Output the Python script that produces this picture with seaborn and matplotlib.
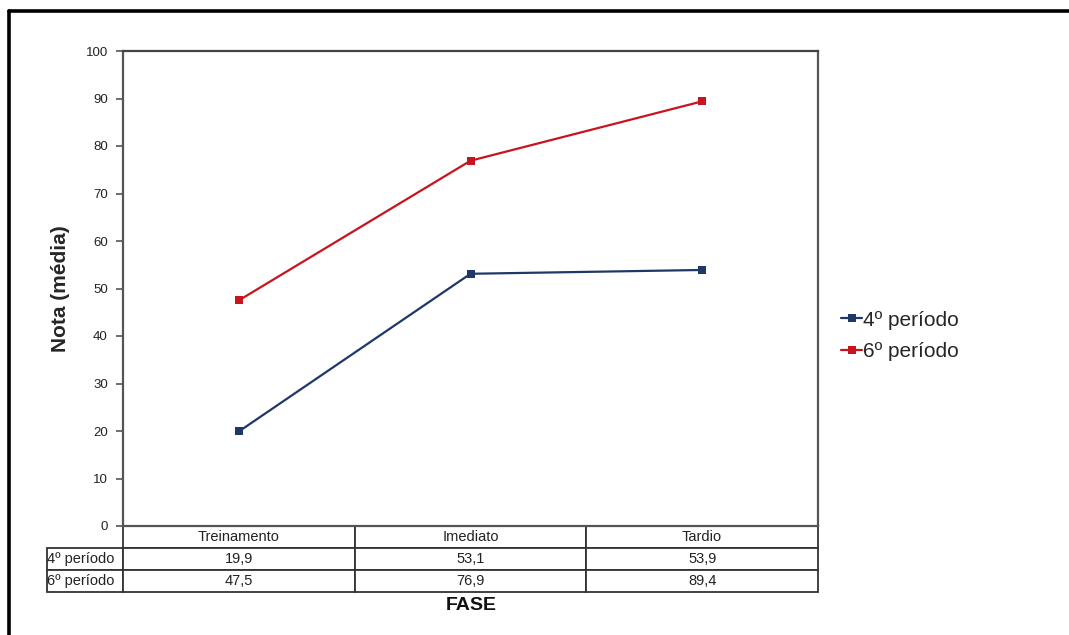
import matplotlib
matplotlib.use("Agg")
import matplotlib.pyplot as plt
from matplotlib.lines import Line2D
from matplotlib.table import Table
import seaborn as sns
import pandas as pd

# Data
fases = ["Treinamento", "Imediato", "Tardio"]
series = ["4º período", "6º período"]
notas_4 = [19.9, 53.1, 53.9]
notas_6 = [47.5, 76.9, 89.4]
cores = {"4º período": "#1F3868", "6º período": "#C8141E"}
y_ticks = list(range(0, 101, 10))

df = pd.DataFrame({
    "Fase": fases * 2,
    "Nota": notas_4 + notas_6,
    "Período": [series[0]] * 3 + [series[1]] * 3,
})

sns.set_theme(style="white")
plt.rcParams["font.family"] = ["Liberation Sans", "DejaVu Sans"]

W, H = 1069, 635
fig = plt.figure(figsize=(W / 100, H / 100), dpi=100)
x0, x1, y_top, y_bot = 123, 818, 51, 526
ax = fig.add_axes([x0 / W, (H - y_bot) / H, (x1 - x0) / W, (y_bot - y_top) / H])

sns.lineplot(data=df, x="Fase", y="Nota", hue="Período", palette=cores,
             marker="s", markersize=5.5, markeredgewidth=0, linewidth=1.6,
             ax=ax, sort=False, legend=True)

ax.set_xlim(-0.5, 2.5)
ax.set_ylim(0, 100)
ax.set_yticks(y_ticks)
ax.set_yticklabels([str(t) for t in y_ticks], fontsize=9.5, color="#222222")
ax.set_xticks([])
ax.set_xlabel("")
ax.set_ylabel("Nota (média)", fontsize=15, fontweight="bold", labelpad=11)
ax.tick_params(axis="y", direction="out", length=5, width=1.2, color="#555555",
               left=True, pad=6)
for side, sp in ax.spines.items():
    sp.set_visible(True)
    sp.set_color("#555555")
    sp.set_linewidth(1.6)
ax.spines["top"].set_color("#444444")

# Data table under the axis, built cell by cell
ax_w = x1 - x0
ax_h = y_bot - y_top
col_w = ax_w / 3
lab_w = 123 - 47
row_h = 22
cell_text = [[f"{v:.1f}".replace(".", ",") for v in notas_4],
             [f"{v:.1f}".replace(".", ",") for v in notas_6]]
tbl = Table(ax, bbox=[-lab_w / ax_w, -3 * row_h / ax_h,
                      (ax_w + lab_w) / ax_w, 3 * row_h / ax_h])
cw = col_w / ax_w
lw_ = lab_w / ax_w
rh = row_h / ax_h
for j, f in enumerate(fases):
    tbl.add_cell(0, j + 1, cw, rh, text=f, loc="center")
tbl.add_cell(0, 0, lw_, rh, text="", loc="left").set_visible(False)
for i, (lab, vals) in enumerate(zip(series, cell_text), start=1):
    c = tbl.add_cell(i, 0, lw_, rh, text=lab, loc="left")
    c.PAD = 0.005
    for j, v in enumerate(vals):
        tbl.add_cell(i, j + 1, cw, rh, text=v, loc="center")
tbl.auto_set_font_size(False)
tbl.set_fontsize(10.5)
for (r, c), cell in tbl.get_celld().items():
    cell.set_edgecolor("#333333")
    cell.set_linewidth(1.3)
    cell.get_text().set_color("#222222")
ax.add_table(tbl)

fig.text(471 / W, 1 - 606 / H, "FASE", ha="center", va="center",
         fontsize=14, fontweight="bold", color="#111111")

# Legend outside the axis
handles, labels = ax.get_legend_handles_labels()
ax.legend(handles, labels, loc="center left", bbox_to_anchor=(833 / W, 1 - 336 / H),
          bbox_transform=fig.transFigure, frameon=False, fontsize=15,
          handlelength=1.0, handletextpad=0.05, labelspacing=0.62, borderaxespad=0)

# Outer frame lines
fig.add_artist(Line2D([9 / W, 1], [1 - 11 / H, 1 - 11 / H], color="black", lw=2.6,
                      transform=fig.transFigure))
fig.add_artist(Line2D([9 / W, 9 / W], [0, 1 - 11 / H], color="black", lw=2.6,
                      transform=fig.transFigure))

fig.savefig("out.png", dpi=100, facecolor="white")
